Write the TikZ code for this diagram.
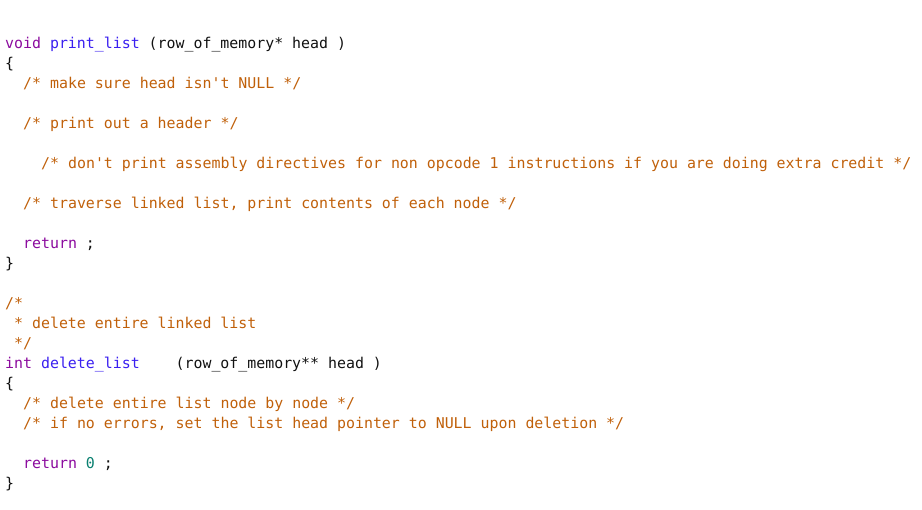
\documentclass[tikz,border=0pt]{standalone}
\usepackage{fontspec}
\setmonofont{DejaVu Sans Mono}
\definecolor{kw}{HTML}{8B0A9E}
\definecolor{fn}{HTML}{3A1FF0}
\definecolor{cm}{HTML}{C0600A}
\definecolor{num}{HTML}{0A8070}
\definecolor{tx}{HTML}{111111}
\newcommand{\K}[1]{\textcolor{kw}{#1}}
\newcommand{\F}[1]{\textcolor{fn}{#1}}
\newcommand{\C}[1]{\textcolor{cm}{#1}}
\newcommand{\N}[1]{\textcolor{num}{#1}}
\tikzset{codeline/.style={anchor=base west,inner sep=0pt,font=\fontsize{14.9}{18}\ttfamily,text=tx}}
\begin{document}
\begin{tikzpicture}[x=1pt,y=-1pt]
\useasboundingbox (0,0) rectangle (922,510);
\node[codeline] (l1) at (5,49) {\K{void} \F{print\_list} (row\_of\_memory* head )};
\node[codeline] (l2) at (5,69) {\{};
\node[codeline] (l3) at (23,89) {\C{/* make sure head isn't NULL */}};
\node[codeline] (l5) at (23,129) {\C{/* print out a header */}};
\node[codeline] (l7) at (41,169) {\C{/* don't print assembly directives for non opcode 1 instructions if you are doing extra credit */}};
\node[codeline] (l9) at (23,209) {\C{/* traverse linked list, print contents of each node */}};
\node[codeline] (l11) at (23,249) {\K{return} ;};
\node[codeline] (l12) at (5,269) {\}};
\node[codeline] (l14) at (5,309) {\C{/*}};
\node[codeline] (l15) at (5,329) {\C{\ * delete entire linked list}};
\node[codeline] (l16) at (5,349) {\C{\ */}};
\node[codeline] (l17) at (5,369) {\K{int} \F{delete\_list}\hphantom{xxxx}(row\_of\_memory** head )};
\node[codeline] (l18) at (5,389) {\{};
\node[codeline] (l19) at (23,409) {\C{/* delete entire list node by node */}};
\node[codeline] (l20) at (23,429) {\C{/* if no errors, set the list head pointer to NULL upon deletion */}};
\node[codeline] (l22) at (23,469) {\K{return} \N{0} ;};
\node[codeline] (l23) at (5,489) {\}};
\end{tikzpicture}
\end{document}
